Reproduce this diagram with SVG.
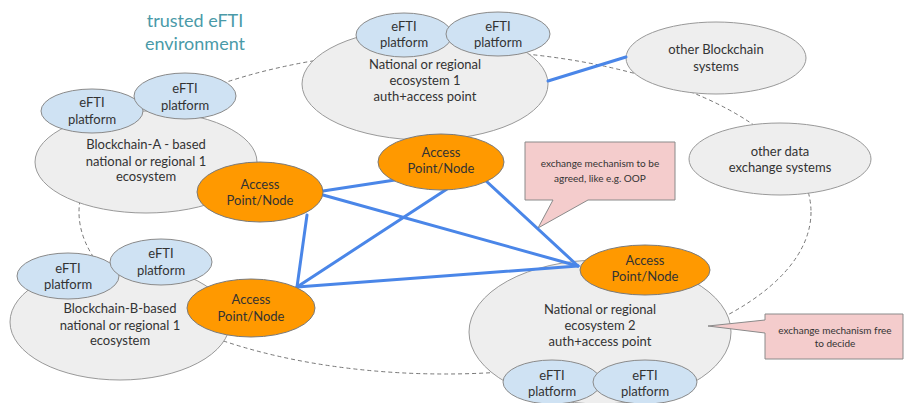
<svg xmlns="http://www.w3.org/2000/svg" width="905" height="403" viewBox="0 0 905 403">
<style>
text{font-family:Lato,"Open Sans","Liberation Sans",sans-serif;fill:#333;text-anchor:middle}
.t{font-size:13px}
.s{font-size:10px}
.eco{fill:#eeeeee;stroke:#999;stroke-width:1}
.pf{fill:#cfe2f3;stroke:#8a8a8a;stroke-width:1}
.ap{fill:#ff9900;stroke:#7a7a7a;stroke-width:1}
.co{fill:#f4cccc;stroke:#8a8a8a;stroke-width:1}
.env{fill:none;stroke:#777;stroke-width:1;stroke-dasharray:4 3}
.c line{stroke:#4a86e8;stroke-width:3;stroke-linecap:round}
</style>
<rect width="905" height="403" fill="#fff"/>
<g id="env">
<ellipse class="env" cx="445" cy="212" rx="366" ry="162"/>
<text x="195" y="27" style="font-size:18px;fill:#4a9aa8">trusted eFTI</text>
<text x="195" y="50" style="font-size:18px;fill:#4a9aa8">environment</text>
</g>
<g id="eco1">
<ellipse class="eco" cx="425" cy="84" rx="123" ry="56"/>
<text class="t" x="425" y="69">National or regional</text>
<text class="t" x="425" y="85">ecosystem 1</text>
<text class="t" x="425" y="101">auth+access point</text>
</g>
<g id="ecoA">
<ellipse class="eco" cx="146" cy="162" rx="111" ry="51"/>
<text class="t" x="146" y="149">Blockchain-A - based</text>
<text class="t" x="146" y="166">national or regional 1</text>
<text class="t" x="146" y="181">ecosystem</text>
</g>
<g id="ecoB">
<ellipse class="eco" cx="120" cy="322" rx="110" ry="58"/>
<text class="t" x="120" y="313">Blockchain-B-based</text>
<text class="t" x="120" y="330">national or regional 1</text>
<text class="t" x="120" y="345">ecosystem</text>
</g>
<g id="eco2">
<ellipse class="eco" cx="600" cy="332" rx="131" ry="72"/>
<text class="t" x="600" y="314">National or regional</text>
<text class="t" x="600" y="330">ecosystem 2</text>
<text class="t" x="600" y="346">auth+access point</text>
</g>
<g id="otherBC">
<ellipse class="eco" cx="716" cy="58" rx="90" ry="36"/>
<text class="t" x="716" y="54">other Blockchain</text>
<text class="t" x="716" y="71">systems</text>
</g>
<g id="otherData">
<ellipse class="eco" cx="780" cy="159" rx="91" ry="36"/>
<text class="t" x="780" y="156">other data</text>
<text class="t" x="780" y="172">exchange systems</text>
</g>
<g id="pf1a"><ellipse class="pf" cx="404" cy="35" rx="48" ry="22"/><text class="t" x="404" y="31">eFTI</text><text class="t" x="404" y="47">platform</text></g>
<g id="pf1b"><ellipse class="pf" cx="498" cy="34" rx="52" ry="22"/><text class="t" x="498" y="31">eFTI</text><text class="t" x="498" y="47">platform</text></g>
<g id="pfAa"><ellipse class="pf" cx="92" cy="111" rx="51" ry="22"/><text class="t" x="92" y="107">eFTI</text><text class="t" x="92" y="124">platform</text></g>
<g id="pfAb"><ellipse class="pf" cx="185" cy="96" rx="51" ry="23"/><text class="t" x="185" y="93">eFTI</text><text class="t" x="185" y="110">platform</text></g>
<g id="pfBa"><ellipse class="pf" cx="68" cy="276" rx="51" ry="23"/><text class="t" x="68" y="273">eFTI</text><text class="t" x="68" y="289">platform</text></g>
<g id="pfBb"><ellipse class="pf" cx="161" cy="262" rx="51" ry="23"/><text class="t" x="161" y="258">eFTI</text><text class="t" x="161" y="275">platform</text></g>
<g id="pf2a"><ellipse class="pf" cx="552" cy="382" rx="49" ry="22"/><text class="t" x="552" y="380">eFTI</text><text class="t" x="552" y="396">platform</text></g>
<g id="pf2b"><ellipse class="pf" cx="645" cy="382" rx="52" ry="22"/><text class="t" x="645" y="380">eFTI</text><text class="t" x="645" y="396">platform</text></g>
<g id="call1">
<path class="co" d="M525,142 H675 V200 H588 L538,228 L553,200 H525 Z"/>
<text class="s" x="600" y="167">exchange mechanism to be</text>
<text class="s" x="600" y="182">agreed, like e.g. OOP</text>
</g>
<g id="call2">
<path class="co" d="M765,314 H903 V359 H765 V333 L708,326 L765,320 Z"/>
<text class="s" x="835" y="334">exchange mechanism free</text>
<text class="s" x="835" y="347">to decide</text>
</g>
<g class="c" id="connectors">
<line x1="548" y1="81" x2="626" y2="57"/>
<line x1="323" y1="191" x2="395" y2="180"/>
<line x1="307" y1="215" x2="297" y2="287"/>
<line x1="323" y1="195" x2="578" y2="266"/>
<line x1="447" y1="189" x2="297" y2="287"/>
<line x1="485" y1="180" x2="578" y2="266"/>
<line x1="297" y1="287" x2="578" y2="266"/>
</g>
<g id="apA"><ellipse class="ap" cx="260" cy="192" rx="63" ry="30"/><text class="t" x="260" y="189">Access</text><text class="t" x="260" y="205">Point/Node</text></g>
<g id="apTop"><ellipse class="ap" cx="441" cy="162" rx="63" ry="28"/><text class="t" x="441" y="157">Access</text><text class="t" x="441" y="173">Point/Node</text></g>
<g id="apB"><ellipse class="ap" cx="251" cy="308" rx="64" ry="29"/><text class="t" x="251" y="304">Access</text><text class="t" x="251" y="321">Point/Node</text></g>
<g id="ap2"><ellipse class="ap" cx="645" cy="270" rx="65" ry="25"/><text class="t" x="645" y="265">Access</text><text class="t" x="645" y="281">Point/Node</text></g>
</svg>
